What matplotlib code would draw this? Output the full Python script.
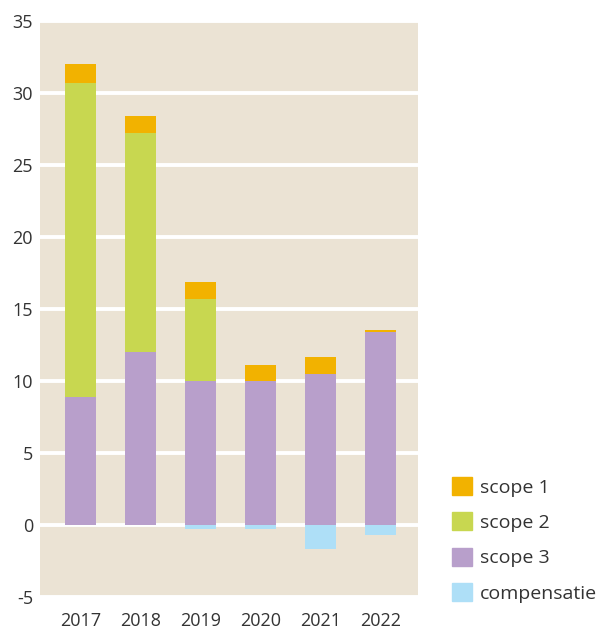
import matplotlib
matplotlib.use("Agg")
import matplotlib.pyplot as plt
from matplotlib.patches import Patch
import numpy as np

years = ["2017", "2018", "2019", "2020", "2021", "2022"]
scope3 = [8.9, 12.0, 10.0, 10.0, 10.5, 13.4]
scope2 = [21.8, 15.2, 5.7, 0.0, 0.0, 0.0]
scope1 = [1.3, 1.2, 1.2, 1.1, 1.2, 0.15]
compensatie = [0.0, 0.0, -0.28, -0.28, -1.7, -0.69]
labels = ["scope 1", "scope 2", "scope 3", "compensatie"]
yticks = [-5, 0, 5, 10, 15, 20, 25, 30, 35]

c1, c2, c3, c4 = "#F2B200", "#C8D750", "#B89FCB", "#AEDFF7"
bg = "#EBE3D4"
txt = "#333333"

plt.rcParams['font.family'] = ['Open Sans', 'DejaVu Sans']

fig = plt.figure(figsize=(6.02, 6.29), dpi=100)
ax = fig.add_axes([40/602, 1 - 597/629, (418-40)/602, (597-21)/629])
ax.set_facecolor(bg)

x = np.arange(len(years))
w = 0.52
s3 = np.array(scope3); s2 = np.array(scope2); s1 = np.array(scope1)
ax.bar(x, s3, w, color=c3, zorder=3)
ax.bar(x, s2, w, bottom=s3, color=c2, zorder=3)
ax.bar(x, s1, w, bottom=s3 + s2, color=c1, zorder=3)
ax.bar(x, compensatie, w, color=c4, zorder=3)

ax.set_ylim(-5, 35)
ax.set_xlim(-0.675, 5.62)
ax.set_yticks(yticks)
ax.set_yticklabels([str(v) for v in yticks])
ax.set_xticks(x)
ax.set_xticklabels(years)
ax.yaxis.grid(True, color="white", linewidth=2.8, zorder=1)
ax.set_axisbelow(True)
for sp in ax.spines.values():
    sp.set_visible(False)
ax.tick_params(axis='both', length=0, labelsize=13, colors=txt)
ax.tick_params(axis='y', pad=5)
ax.tick_params(axis='x', pad=11)

handles = [Patch(color=c) for c in (c1, c2, c3, c4)]
leg = fig.legend(handles, labels, loc='upper left',
                 bbox_to_anchor=(452/602, 1 - 477/629),
                 frameon=False, fontsize=14, handlelength=1.03,
                 handleheight=1.03, labelspacing=0.82, handletextpad=0.4,
                 borderaxespad=0, borderpad=0)
for t in leg.get_texts():
    t.set_color(txt)

fig.savefig("out.png", dpi=100)
